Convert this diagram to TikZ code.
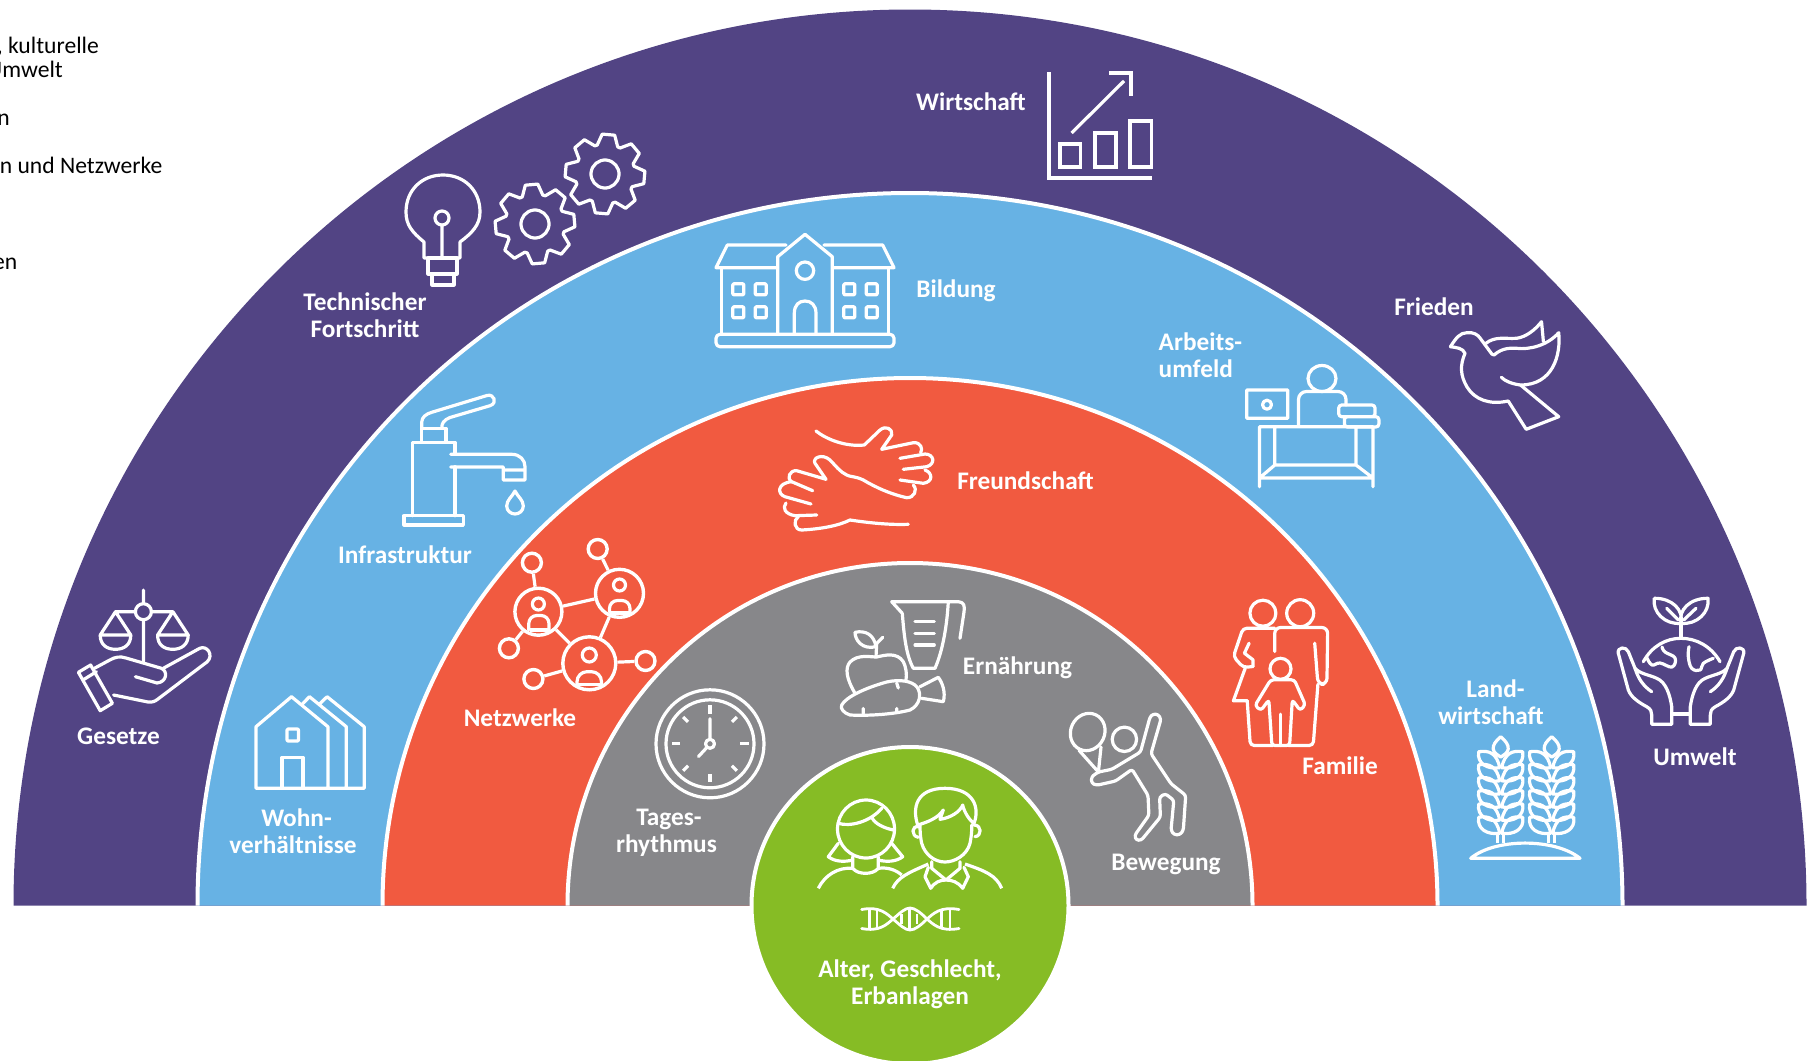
\documentclass[tikz,border=0pt]{standalone}
\usepackage{fontspec}
\setmainfont{Carlito}
\definecolor{cpurple}{HTML}{524484}
\definecolor{cblue}{HTML}{67B2E4}
\definecolor{cred}{HTML}{F15A40}
\definecolor{cgray}{HTML}{87878A}
\definecolor{cgreen}{HTML}{86BC25}
\newcommand\sm[1]{plot[smooth,tension=.7] coordinates {#1}}
\newcommand\gearic[3]{\draw[ic,shift={(#1,#2)},rotate=#3] (-20:30) foreach \a in {0,45,...,315} { -- (\a-20:30) -- (\a-9:40) -- (\a+9:40) -- (\a+20:30) } -- cycle (0,0) circle (14);}
\tikzset{
  ic/.style={draw=white,line width=3.2pt,line join=round,line cap=round,fill=none},
  lbl/.style={text=white,font=\bfseries\fontsize{25.3}{26.6}\selectfont,align=center,inner sep=0pt},
  blk/.style={text=black,font=\fontsize{23.6}{26}\selectfont,inner sep=0pt,anchor=base east},
  ring/.style={draw=white,line width=4pt},
  netbig/.style={circle,draw=white,line width=3.4pt,inner sep=0pt,fill=none},
  netsmall/.style={circle,draw=white,line width=3.4pt,inner sep=0pt,minimum size=19pt,fill=none}
}
\begin{document}
\begin{tikzpicture}[x=1pt,y=-1pt]
\useasboundingbox (0,0) rectangle (1811,1060);
% bands
\fill[cpurple] (13.5,905.5) arc[start angle=180,end angle=0,x radius=896.5,y radius=-896] -- cycle;
\fill[cblue] (197.5,905.5) arc[start angle=180,end angle=0,x radius=712.5,y radius=-712.5] -- cycle;
\draw[ring] (197.5,905.5) arc[start angle=180,end angle=0,x radius=712.5,y radius=-712.5];
\fill[cred] (382.5,905.5) arc[start angle=180,end angle=0,x radius=527.5,y radius=-527.5] -- cycle;
\draw[ring] (382.5,905.5) arc[start angle=180,end angle=0,x radius=527.5,y radius=-527.5];
\fill[cgray] (567.5,905.5) arc[start angle=180,end angle=0,x radius=342.5,y radius=-342.5] -- cycle;
\draw[ring] (567.5,905.5) arc[start angle=180,end angle=0,x radius=342.5,y radius=-342.5];
\path[fill=cgreen,draw=white,line width=4pt] (910,905.5) circle (158.5);
% left fragments
\node[blk] (t1) at (99,53) {, kulturelle};
\node[blk] (t2) at (63,77) {Umwelt};
\node[blk] (t3) at (10,125) {n};
\node[blk] (t4) at (162.5,173) {n und Netzwerke};
\node[blk] (t5) at (17.5,269) {en};
% labels
\node[lbl] (lwirt) at (971,102) {Wirtschaft};
\node[lbl] (ltech) at (365,315.5) {Technischer\\Fortschritt};
\node[lbl] (lbild) at (956,291) {Bildung};
\node[lbl] (lfried) at (1434,307) {Frieden};
\node[lbl,align=left,anchor=west] (larb) at (1158.5,355) {Arbeits-\\umfeld};
\node[lbl] (lfreu) at (1025.5,480.5) {Freundschaft};
\node[lbl] (linfra) at (405,555) {Infrastruktur};
\node[lbl] (lnetz) at (520,718) {Netzwerke};
\node[lbl] (lern) at (1017.5,667.5) {Ernährung};
\node[lbl] (lfam) at (1340,766) {Familie};
\node[lbl] (lland) at (1491,702) {\hspace*{9pt}Land-\\wirtschaft};
\node[lbl] (lumw) at (1695,756.5) {Umwelt};
\node[lbl] (lges) at (118.5,736) {Gesetze};
\node[lbl] (lwohn) at (293,831) {\hspace*{7pt}Wohn-\\verhältnisse};
\node[lbl] (ltag) at (666.5,833) {\hspace*{5pt}Tages-\\rhythmus};
\node[lbl] (lbew) at (1166,864) {Bewegung};
\node[lbl] (lalt) at (910,984.5) {Alter, Geschlecht,\\Erbanlagen};
% bulb
\draw[ic] (424,258) -- (424,242) .. controls (412,232) and (406,225) .. (406,212) .. controls (406,190) and (422,175) .. (443,175) .. controls (464,175) and (480,190) .. (480,212) .. controls (480,225) and (472,233) .. (460,242) -- (460,258) -- cycle;
\draw[ic] (428,258) rectangle (457,274) (432,274) rectangle (454,285);
\draw[ic] (442,218) circle (7) (442,225) -- (442,258);
\gearic{535}{224}{5}
\gearic{605}{174}{-5}
% chart
\draw[ic,line cap=butt,line join=miter] (1049,72) -- (1049,178) -- (1152,178);
\draw[ic,line cap=butt,line join=miter] (1060,144) rectangle (1080.5,167) (1095,133) rectangle (1116,167) (1130,121) rectangle (1151.5,167);
\draw[ic,line cap=butt] (1071.6,133) -- (1124,81);
\draw[ic,line cap=butt,line join=miter] (1109,73) -- (1131,73) -- (1131,96);
% dove
\draw[ic] (1450.4,346.7) .. controls (1456,338) and (1460,332.7) .. (1466.9,332.7) .. controls (1474,332) and (1478,335) .. (1480,338) -- (1491.8,354) -- (1494,355) .. controls (1503,347) and (1512,348.3) .. (1516.6,348.3) .. controls (1530,350) and (1548,345) .. (1558.7,332.7) .. controls (1561,355) and (1553,385) .. (1520.5,385) .. controls (1512,384) and (1505,381) .. (1501.3,377.3);
\draw[ic] (1486,343.3) .. controls (1495,336) and (1505,339) .. (1516.6,338.3) .. controls (1526,337) and (1535,330) .. (1541.5,321.7) -- (1543.4,341.7);
\draw[ic] (1520.5,385) -- (1558.7,416.7) -- (1526.2,429.3) -- (1508.2,401) .. controls (1490,405) and (1475,400) .. (1467,387) .. controls (1460,375) and (1460,365) .. (1465,353.3) .. controls (1463,348) and (1456,347.5) .. (1450.4,346.7);
% desk
\draw[ic] (1322,378.5) ellipse (14 and 13);
\draw[ic,rounded corners=8pt] (1298.5,425) -- (1298.5,391.5) -- (1346,391.5) -- (1346,405);
\draw[ic,rounded corners=3pt] (1338.7,405) rectangle (1375,416.7) (1344.4,416.7) -- (1378.9,416.7) -- (1378.9,427) -- (1344.4,427) -- cycle;
\draw[ic] (1246.8,390) rectangle (1287.8,418.3) (1267,404.7) circle (4.5);
\draw[ic] (1259.5,486.7) -- (1259.5,426.7) -- (1346,426.7) (1373,426.7) -- (1373,486.7) (1259.5,478) -- (1373,478) (1274.8,426.7) -- (1274.8,465) -- (1356,465) -- (1356,426.7) (1274.8,465) -- (1259.5,478) (1356,465) -- (1373,478) (1344,426.7) -- (1373,426.7);
% school
\draw[ic,rounded corners=4pt] (716,334.3) rectangle (894,346.7);
\draw[ic] (721.7,267.7) -- (721.7,334.3) (888.3,267.7) -- (888.3,334.3);
\draw[ic] (776,267.7) -- (716,267.7) -- (727.3,245) -- (786,245) (824,245) -- (882.7,245) -- (894,267.7) -- (834,267.7);
\draw[ic] (777.7,334.3) -- (777.7,256.7) -- (805,234.3) -- (832.3,256.7) -- (832.3,334.3);
\draw[ic] (805,270.7) circle (8.7);
\draw[ic] (794.3,334.3) -- (794.3,313.3) .. controls (794.3,305) and (799,301) .. (805,301) .. controls (811,301) and (816,305) .. (816,313.3) -- (816,334.3);
\foreach \wx in {738.3,760.7,849.3,871.7} \foreach \wy in {289.3,312.3} {\draw[ic,rounded corners=1pt] (\wx-5.5,\wy-5.5) rectangle (\wx+5.5,\wy+5.5);}
% faucet
\draw[ic] (404,515.7) rectangle (463.3,525);
\draw[ic] (412.7,515.7) -- (412.7,442.3) -- (455,442.3) -- (455,453.3) (455,466.7) -- (455,515.7);
\draw[ic] (450.7,454.3) -- (511.7,454.3) .. controls (520,454.3) and (525,460) .. (525,466.7) -- (525,480) -- (503.3,480) -- (503.3,467) -- (450.7,467) (503.3,470) -- (525,470);
\draw[ic] (421.7,442.3) -- (421.7,428.3) -- (446,428.3) -- (446,442.3);
\draw[ic] (421.7,428.3) -- (421.7,422) .. controls (422,417) and (426,414) .. (431.7,412.3) -- (487,395.5) .. controls (494,393.5) and (498,403) .. (490,405.7) -- (450,417.5) .. controls (444,420) and (441.7,423) .. (441.7,428.3);
\draw[ic] (515,491) .. controls (518,497) and (523.3,500) .. (523.3,506) .. controls (523.3,511) and (519,514) .. (515,514) .. controls (511,514) and (506.7,511) .. (506.7,506) .. controls (506.7,500) and (512,497) .. (515,491) -- cycle;
% scales and hand
\draw[ic] (143.4,590) -- (143.4,603.7) (143.4,619.7) -- (143.4,661.7) (143.4,611.7) circle (8);
\draw[ic] (135.4,611.7) -- (115.5,611.7) -- (100.2,635) -- (130.8,635) -- (115.5,611.7) (151.4,611.7) -- (172.9,611.7) -- (157.6,635) -- (188.2,635) -- (172.9,611.7);
\draw[ic] (100.2,635) .. controls (100.2,645) and (107,649.3) .. (115.5,649.3) .. controls (124,649.3) and (130.8,645) .. (130.8,635);
\draw[ic] (157.6,635) .. controls (157.6,645) and (164,649.3) .. (172.9,649.3) .. controls (181,649.3) and (188.2,645) .. (188.2,635);
\draw[ic] (78.4,672.3) -- (90.6,665) -- (112.4,703.3) -- (100.2,710.7) -- cycle (83,680) -- (96.4,671.7);
\draw[ic] (94.4,668.3) -- (109.8,660) .. controls (115,657) and (120,656) .. (126,658) -- (161.4,668.3) .. controls (168,671) and (167,682) .. (157,683) -- (135.4,676.7);
\draw[ic] (163.3,668.3) -- (199.7,648.3) .. controls (207,645) and (214,655) .. (207.3,661.7) -- (158,699) .. controls (155,701.5) and (152,702.5) .. (148,702) -- (113.6,695);
% house
\draw[ic] (256,788.3) -- (364.2,788.3) -- (364.2,726.7) -- (327.1,696.7) -- (320.2,703.3) (256,788.3) -- (256,726.7) -- (291.5,696.7) -- (327.9,726.7) -- (327.9,788.3) (303,703.3) -- (309.5,696.7) -- (346.3,726.7) -- (346.3,788.3);
\draw[ic,rounded corners=1pt] (287,729) rectangle (298.5,741);
\draw[ic] (282,788.3) -- (282,757.3) -- (303,757.3) -- (303,788.3);
% network
\node[netbig,minimum size=47pt] (na) at (538.4,611.7) {};
\node[netbig,minimum size=48pt] (nb) at (619.5,593.3) {};
\node[netbig,minimum size=53pt] (nc) at (589.3,663.3) {};
\node[netsmall] (s1) at (531.9,562.7) {};
\node[netsmall] (s2) at (597.7,549) {};
\node[netsmall] (s3) at (508.9,648.3) {};
\node[netsmall] (s4) at (533.4,679) {};
\node[netsmall] (s5) at (645.5,661) {};
\draw[ic,line cap=butt] (s1) -- (na);
\draw[ic,line cap=butt] (s2) -- (nb);
\draw[ic,line cap=butt] (s3) -- (na);
\draw[ic,line cap=butt] (s4) -- (nc);
\draw[ic,line cap=butt] (s5) -- (nc);
\draw[ic,line cap=butt] (na) -- (nb);
\draw[ic,line cap=butt] (na) -- (nc);
\draw[ic,line cap=butt] (nb) -- (nc);
\draw[ic] (538.4,604) circle (6) (619.5,585) circle (6) (589.3,655) circle (7);
\draw[ic,rounded corners=8pt] (528.8,630) -- (528.8,615.5) -- (549,615.5) -- (549,630);
\draw[ic,line cap=butt] (529.5,630) -- (548.5,630);
\draw[ic,rounded corners=8pt] (609.5,612) -- (609.5,600.5) -- (630,600.5) -- (630,612);
\draw[ic,line cap=butt] (610,613) -- (629.5,613);
\draw[ic,rounded corners=10pt] (577,684) -- (577,671.7) -- (601.5,671.7) -- (601.5,684);
\draw[ic,line cap=butt] (577,684.5) -- (601.5,684.5);
% handshake arms
\draw[ic] (816,431) .. controls (826,439) and (845,447) .. (864.3,445) -- (880,430) .. controls (886,425) and (893,429) .. (891.7,435) -- (881.7,449.3) -- (913.3,442.7) .. controls (921,442) and (923,449) .. (920.7,452.7);
\draw[ic] (900,458.3) -- (925,454) .. controls (934,454) and (936,464) .. (926.7,466.7) -- (903.3,469.3);
\draw[ic] (925,470) .. controls (933,473) and (933,482) .. (923.3,483.3) -- (900,480);
\draw[ic] (913.3,485) .. controls (918,490) and (914,498) .. (906.7,497.7) .. controls (890,494) and (875,487) .. (863.3,480) .. controls (855,476) and (850,477) .. (846.7,475) .. controls (840,472) and (835,465) .. (830,460) .. controls (822,453) and (812,458) .. (815,463.3) -- (826,479.3) -- (796.7,470.7) .. controls (790,470) and (786,478) .. (791.7,481.7) -- (812.7,490.7);
\draw[ic] (791.7,481.7) .. controls (777,483) and (777,494) .. (785,496.7) -- (811,504);
\draw[ic] (786,503) .. controls (782,508) and (785,514) .. (795,515.7) -- (816.7,515);
\draw[ic] (798.3,516.7) .. controls (793,520) and (794,530) .. (801.7,530) .. controls (820,529) and (838,526) .. (850,520) .. controls (870,523) and (890,525) .. (908.3,524.3);
% cup apple carrot
\draw[ic] (902.3,613.3) -- (891.7,601.7) -- (958.3,601.7) .. controls (964,602) and (965,606) .. (964,612) -- (960,638.3);
\draw[ic] (902.3,613.3) .. controls (904,635) and (906,655) .. (913.3,668.3) -- (935,668.3) .. controls (943,650) and (947,625) .. (948.3,601.7);
\draw[ic] (915,621.7) -- (934.3,621.7) (915,633.3) -- (934.3,633.3) (915,645) -- (934.3,645);
\draw[ic] (855,693.3) .. controls (846,678) and (845,668) .. (850,662) .. controls (858,654) and (870,657) .. (876.7,657) .. controls (885,655) and (897,652) .. (903.3,661.7) .. controls (906,667) and (907,674) .. (906,680);
\draw[ic] (876,656.7) -- (876.7,643.3) -- (882.7,637.3);
\draw[ic] (876,646.7) .. controls (874,635) and (866,630) .. (855,632.3) .. controls (855,640) and (862,650) .. (876,646.7);
\draw[ic] (841.7,705) .. controls (846,697) and (865,688) .. (886.7,682) .. controls (900,679) and (912,681) .. (917,687) .. controls (922,694) and (920,705) .. (910,710) .. controls (895,714) and (870,716) .. (850,715) .. controls (844,713) and (840,709) .. (841.7,705) -- cycle;
\draw[ic] (896.7,683) -- (898.3,688) (863.3,708.5) -- (863.3,713.5) (896.7,708.5) -- (896.7,712);
\draw[ic] (920,686.7) -- (938.3,677.3) .. controls (942,682) and (946,692) .. (943.3,701.7) -- (921.7,698.3);
% clock
\begin{scope}[shift={(0,1.5)}]
\draw[ic] (710,742.3) circle (54) (710,742.3) circle (44) (710,742.3) circle (4.5);
\foreach \ca in {0,90,180,270} {\draw[ic,line cap=butt] ([shift={(\ca:30)}]710,742.3) -- ([shift={(\ca:38.5)}]710,742.3);}
\foreach \ca in {45,135,225,315} {\draw[ic,line cap=butt] ([shift={(\ca:31)}]710,742.3) -- ([shift={(\ca:38)}]710,742.3);}
\draw[ic] (710,737.8) -- (710,717.3) (707,745.8) -- (698.5,755);
\end{scope}
% tennis
\begin{scope}[shift={(0,2)}]
\draw[ic,rotate around={-25:(1087.7,730)}] (1087.7,730) ellipse (17 and 19);
\draw[ic] (1079,748.3) -- (1098.4,770) -- (1101,745);
\draw[ic] (1124.4,737.3) circle (12.2);
\draw[ic,rounded corners=2.5pt] (1098.4,770) -- (1111.8,767.3) -- (1140.5,750) -- (1150,715) -- (1153,712) -- (1158,712.3) -- (1161,717) -- (1151,751.7) -- (1171,781.7) -- (1185.7,793.3) -- (1183.3,828.3) -- (1180,832.7) -- (1174,832.7) -- (1171,828.3) -- (1173.8,798.3) -- (1165.3,791.7) -- (1159.6,795) -- (1160.4,815) -- (1141.2,838.3) -- (1136,838) -- (1134.7,833.3) -- (1148.9,813.3) -- (1148,793.3) -- (1132,767.3) -- (1115.6,779) -- (1096.5,783.3) -- (1091.5,781) -- (1091.5,775) -- (1094.6,772.5) -- cycle;
\end{scope}
% woman
\draw[ic] (866,829) ellipse (28.5 and 29);
\draw[ic] (838.3,823.3) .. controls (850,827) and (870,822) .. (881.7,808.3) (871.7,817.3) .. controls (875,824) and (884,828) .. (893.3,830);
\draw[ic] (838.3,843.3) -- (828.3,856.7) .. controls (835,862) and (845,862) .. (852.7,860) (891.7,843.3) -- (902.7,856.7) .. controls (896,862) and (886,862) .. (878.3,860);
\draw[ic] (852.7,856.7) -- (852.7,868.3) .. controls (858,875) and (873,875) .. (878.3,868.3) -- (878.3,856.7);
\draw[ic,line cap=butt] (818.3,888.3) .. controls (825,875) and (838,867) .. (852.7,868.3) (878.3,868.3) .. controls (888,867) and (896,870) .. (901.7,875);
% man
\draw[ic] (917.7,825) .. controls (912,808) and (916,788.3) .. (945,788.3) .. controls (974,788.3) and (980,808) .. (974,823.3) .. controls (970,821) and (964,812) .. (962.7,805) .. controls (960,812) and (950,818) .. (940,819.3) -- (943.3,810) .. controls (938,818) and (928,822) .. (917.7,825);
\draw[ic] (920,825) .. controls (920,835) and (921,840) .. (921.7,843.3) .. controls (925,855) and (935,862) .. (945,862) .. controls (955,862) and (967,855) .. (970,843.3) .. controls (971,838) and (972,832) .. (971.7,825);
\draw[ic] (919.3,826.7) .. controls (911,825) and (911,836) .. (918.3,837.3) (974,825) .. controls (982,825) and (982,836) .. (975,836.7);
\draw[ic] (931.7,861.7) -- (931.7,868.3) -- (946,880) -- (960,868.3) -- (960,861.7);
\draw[ic] (928.3,867.3) -- (925,876.7) -- (930.7,888.3) .. controls (935,882) and (940,880) .. (946,880) .. controls (952,880) and (958,882) .. (962.7,888.3) -- (968.3,876.7) -- (964,867.3);
\draw[ic,line cap=butt] (892.7,888.3) .. controls (898,877) and (908,873) .. (928.3,864) (965,864) .. controls (985,871) and (996,875) .. (1001.7,888.3);
% DNA
\draw[ic,line width=2.8pt] (861.7,909.5) .. controls (880,906) and (887,914) .. (893,919) .. controls (900,925) and (905,930) .. (910,930) .. controls (915,930) and (921,925) .. (927,919) .. controls (933,914) and (940,906) .. (959,909.5);
\draw[ic,line width=2.8pt] (861.7,928.5) .. controls (880,932) and (887,924) .. (893,919) .. controls (900,913) and (905,908) .. (910,908) .. controls (915,908) and (921,913) .. (927,919) .. controls (933,924) and (940,932) .. (959,928.5);
\draw[ic,line width=2.8pt,line cap=butt] (869.3,909) -- (869.3,929.5) (877,909) -- (877,928) (901.7,914) -- (901.7,924) (909.5,908) -- (909.5,930) (917,914) -- (917,924) (941.7,911) -- (941.7,927) (950,909) -- (950,929);
% family
\begin{scope}[shift={(0,1.5)}]
\draw[ic] (1262.9,611.7) circle (13) (1300.2,611.7) circle (13.5) (1280.5,667.3) circle (10.5);
\draw[ic,rounded corners=4pt] (1274.7,626.7) -- (1243,626.7) -- (1233.4,655) -- (1243.2,666) -- (1253,665);
\draw[ic] (1253,665) -- (1253,658.3) -- (1244.4,651.7) -- (1249.1,641.7) (1245.2,666.7) -- (1233.4,699.3) -- (1247.2,699.3);
\draw[ic,rounded corners=4pt] (1247.2,699.3) -- (1250.3,744) -- (1272.7,744);
\draw[ic,rounded corners=6pt] (1274.7,650) -- (1274.7,626) -- (1327.7,626) -- (1326.9,682.7) -- (1317.9,682.7) -- (1314.7,641.7);
\draw[ic,rounded corners=4pt] (1317.9,682.7) -- (1313.2,744) -- (1288.4,744);
\draw[ic,rounded corners=3pt] (1271.9,744) -- (1268.8,698.3) -- (1260.9,709) -- (1255,704) -- (1270.7,678.3) -- (1294.3,678.3) -- (1305.3,703.3) -- (1300.2,709) -- (1292.3,698.3) -- (1289.6,744) -- cycle;
\draw[ic] (1280.5,712.7) -- (1280.5,744);
\end{scope}
% wheat
\draw[ic] (1470.7,858.3) .. controls (1495,838) and (1555,838) .. (1580,858.3) -- cycle;
\foreach \cx in {1500.7,1551.7} {
  \draw[ic] (\cx,736.7) .. controls (\cx+5,741) and (\cx+8,745) .. (\cx+7.5,749) .. controls (\cx+7,753) and (\cx+3,755) .. (\cx,757) .. controls (\cx-3,755) and (\cx-7,753) .. (\cx-7.5,749) .. controls (\cx-8,745) and (\cx-5,741) .. (\cx,736.7) -- cycle;
  \foreach \t in {751.7,764.8,777.9,791,804.1,817.2} {
    \draw[ic] (\cx-1,\t+16) .. controls (\cx-13,\t+18) and (\cx-24,\t+12) .. (\cx-22,\t) .. controls (\cx-12,\t-1.5) and (\cx-4,\t+1) .. (\cx-1,\t+16);
    \draw[ic] (\cx+1,\t+16) .. controls (\cx+13,\t+18) and (\cx+24,\t+12) .. (\cx+22,\t) .. controls (\cx+12,\t-1.5) and (\cx+4,\t+1) .. (\cx+1,\t+16);
  }
  \draw[ic,line cap=butt] (\cx-3.4,832) -- (\cx-3.4,843) (\cx+3,832) -- (\cx+3,843);
}
% globe
\draw[ic] (1681,638.3) -- (1681,623.3);
\draw[ic] (1681,623.3) .. controls (1665,625) and (1652,612) .. (1654.3,598.3) .. controls (1672,598) and (1684,610) .. (1681,623.3) .. controls (1678,610) and (1690,598) .. (1708,598.3) .. controls (1710,612) and (1697,625) .. (1681,623.3);
\draw[ic] (1666.7,608.3) -- (1678.3,620) (1696,608.3) -- (1683.7,620);
\draw[ic] (1643.3,661.7) .. controls (1652,646) and (1666,638.3) .. (1681,638.3) .. controls (1696,638.3) and (1711,646) .. (1720,661.7);
\draw[ic] \sm{(1647,658) (1652,665) (1660,663) (1672,667) (1675,658) (1665,652) (1662,647)};
\draw[ic] \sm{(1689,646.7) (1688.3,656.7) (1691.7,668.3) (1700,670) (1703.3,663.3) (1713.3,658.3)};
\foreach \hs/\hx in {1/0,-1/3362} {
\begin{scope}[shift={(\hx,0)},xscale=\hs]
\draw[ic] (1651.7,724.3) -- (1671.7,724.3) -- (1671.7,706.7) .. controls (1670,695) and (1666,682) .. (1656.7,678.3) .. controls (1650,675) and (1640,674) .. (1635,668.3) -- (1628.3,651.7) .. controls (1626,646) and (1617,647) .. (1618.3,653.3) -- (1628.3,690) .. controls (1631,697) and (1638,702) .. (1646.7,706.7) .. controls (1651,709) and (1651.7,712) .. (1651.7,715) -- cycle;
\draw[ic] (1635,668.3) .. controls (1638,678) and (1643,686) .. (1651.7,691.7);
\end{scope}
}
\draw[ic] (1671.7,714) -- (1690.3,714);
\end{tikzpicture}
\end{document}
